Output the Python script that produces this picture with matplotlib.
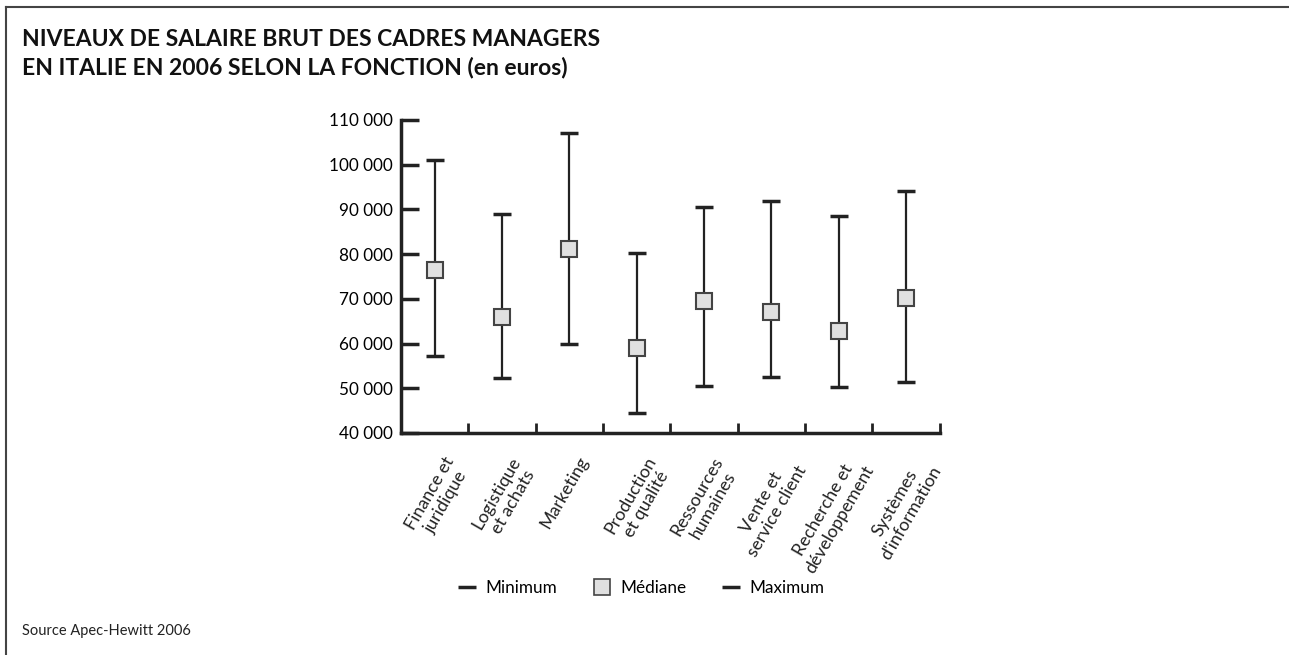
import matplotlib
matplotlib.use('Agg')
import matplotlib.pyplot as plt
from matplotlib.lines import Line2D
import numpy as np

categories = ['Finance et\njuridique', 'Logistique\net achats', 'Marketing',
              'Production\net qualité', 'Ressources\nhumaines', 'Vente et\nservice client',
              'Recherche et\ndéveloppement', 'Systèmes\nd\'information']
minimum = [57200, 52200, 59900, 44400, 50400, 52500, 50300, 51500]
mediane = [76500, 65900, 81100, 59000, 69400, 67100, 62900, 70100]
maximum = [101000, 89000, 107000, 80200, 90500, 91900, 88500, 94000]
yticks = [40000, 50000, 60000, 70000, 80000, 90000, 100000, 110000]

plt.rcParams['font.family'] = ['Lato', 'DejaVu Sans']

fig = plt.figure(figsize=(12.89, 6.55), dpi=100)
ax = fig.add_axes([0.311, 0.339, 0.418, 0.478])

x = np.arange(len(categories))
med = np.array(mediane)
err = [med - np.array(minimum), np.array(maximum) - med]
ax.errorbar(x, med, yerr=err, fmt='none', ecolor='#222222', elinewidth=1.6,
            capsize=6.2, capthick=2.5, zorder=2)
ax.plot(x, med, 's', markersize=12, markerfacecolor='#e0e0e0',
        markeredgecolor='#444444', markeredgewidth=1.5, linestyle='none', zorder=3)

ax.set_xlim(-0.5, 7.5)
ax.set_ylim(40000, 110000)
ax.set_yticks(yticks)
ax.set_yticklabels(['{:,}'.format(v).replace(',', ' ') for v in yticks], fontsize=12.3)
ax.tick_params(axis='y', direction='in', length=13, width=2.5, color='#222222', pad=6)
ax.set_xticks(np.arange(-0.5, 8, 1))
ax.set_xticklabels([])
ax.tick_params(axis='x', direction='in', length=7, width=2, color='#222222')
for s in ['top', 'right']:
    ax.spines[s].set_visible(False)
for s in ['left', 'bottom']:
    ax.spines[s].set_linewidth(2.5)
    ax.spines[s].set_color('#222222')

# rotated two-line category labels under each error bar
for i, lab in enumerate(categories):
    ax.annotate(lab, xy=(i, 40000), xytext=(6, -15), textcoords='offset points',
                rotation=60, ha='right', va='top', rotation_mode='anchor',
                multialignment='center', fontsize=12.8, color='#222222')

handles = [Line2D([], [], color='#222222', marker='_', markersize=13, markeredgewidth=2.5, linestyle='none'),
           Line2D([], [], marker='s', markersize=12, markerfacecolor='#e0e0e0',
                  markeredgecolor='#444444', markeredgewidth=1.2, linestyle='none'),
           Line2D([], [], color='#222222', marker='_', markersize=13, markeredgewidth=2.5, linestyle='none')]
fig.legend(handles, ['Minimum', 'Médiane', 'Maximum'], loc='center', ncol=3,
           bbox_to_anchor=(0.497, 0.102), frameon=False, fontsize=12.3,
           handletextpad=0.5, columnspacing=2.0, handlelength=1.2)

fig.text(0.017, 0.955, 'NIVEAUX DE SALAIRE BRUT DES CADRES MANAGERS\nEN ITALIE EN 2006 SELON LA FONCTION (en euros)',
         fontsize=16.5, fontweight='bold', ha='left', va='top', linespacing=1.35, color='#111111')
fig.text(0.017, 0.037, 'Source Apec-Hewitt 2006', fontsize=10.5, ha='left', va='center', color='#222222')

fig.add_artist(Line2D([0.0047, 1], [0.99, 0.99], transform=fig.transFigure, color='#444444', linewidth=1.5))
fig.add_artist(Line2D([0.0047, 0.0047], [0, 0.99], transform=fig.transFigure, color='#444444', linewidth=1.5))

fig.savefig('out.png', dpi=100)
